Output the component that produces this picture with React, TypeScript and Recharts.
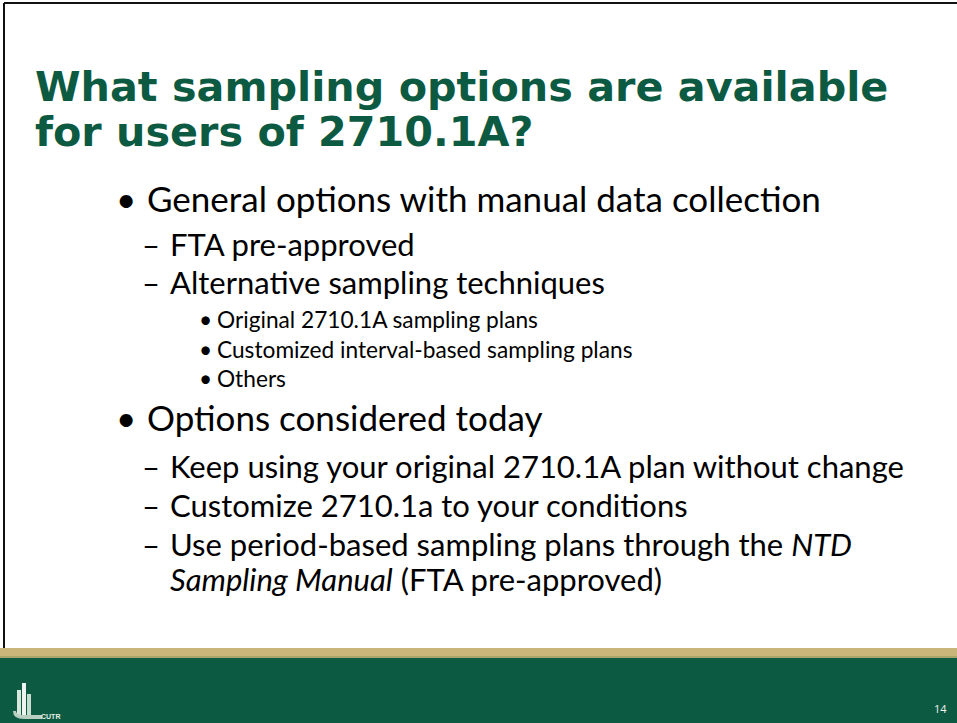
import React from 'react';
import { ComposedChart, Customized } from 'recharts';

const titleLines = ['What sampling options are available', 'for users of 2710.1A?'];

// level 1 = big bullet, 2 = dash, 3 = small bullet, 0 = continuation of previous line
const bulletLevels = [1, 2, 2, 3, 3, 3, 1, 2, 2, 2, 0];
const bulletTexts = [
  [{ t: 'General options with manual data collection' }],
  [{ t: 'FTA pre-approved' }],
  [{ t: 'Alternative sampling techniques' }],
  [{ t: 'Original 2710.1A sampling plans' }],
  [{ t: 'Customized interval-based sampling plans' }],
  [{ t: 'Others' }],
  [{ t: 'Options considered today' }],
  [{ t: 'Keep using your original 2710.1A plan without change' }],
  [{ t: 'Customize 2710.1a to your conditions' }],
  [{ t: 'Use period-based sampling plans through the ' }, { t: 'NTD', i: true }],
  [{ t: 'Sampling Manual', i: true }, { t: ' (FTA pre-approved)' }],
];
const bulletBaselines = [212, 256, 294, 328, 358, 387, 431, 478, 517, 556, 591];

const pageNumber = '14';
const logoLabel = 'CUTR';

const GREEN = '#0d5a42';
const GOLD = '#c9b47a';
const BODY_FONT = 'Lato, "Open Sans", sans-serif';

const levelStyle: Record<number, { marker: string; mx: number; tx: number; size: number }> = {
  1: { marker: '•', mx: 116, tx: 147, size: 35 },
  2: { marker: '–', mx: 142, tx: 170, size: 31 },
  3: { marker: '•', mx: 199, tx: 217, size: 22.7 },
  0: { marker: '', mx: 0, tx: 170, size: 31 },
};

const Slide = () => (
  <g>
    <rect x={0} y={0} width={957} height={723} fill="#ffffff" />
    {/* frame */}
    <line x1={4} y1={3} x2={957} y2={3} stroke="#111" strokeWidth={2} />
    <line x1={4} y1={3} x2={4} y2={660} stroke="#111" strokeWidth={2} />

    {titleLines.map((line, i) => (
      <text
        key={line}
        x={35}
        y={101 + i * 45}
        fill={GREEN}
        fontFamily='"DejaVu Sans", Verdana, sans-serif'
        fontWeight="bold"
        fontSize={41.3}
      >
        {line}
      </text>
    ))}

    {bulletTexts.map((parts, i) => {
      const s = levelStyle[bulletLevels[i]];
      const y = bulletBaselines[i];
      return (
        <g key={i}>
          {s.marker && (
            <text x={s.mx} y={y} fontFamily={BODY_FONT} fontSize={s.size} fill="#000">
              {s.marker}
            </text>
          )}
          <text x={s.tx} y={y} fontFamily={BODY_FONT} fontSize={s.size} fill="#000" style={{ whiteSpace: 'pre' }}>
            {parts.map((p, j) => (
              <tspan key={j} fontStyle={p.i ? 'italic' : 'normal'}>
                {p.t}
              </tspan>
            ))}
          </text>
        </g>
      );
    })}

    {/* footer */}
    <rect x={0} y={648} width={957} height={9} fill={GOLD} />
    <rect x={0} y={656} width={957} height={2} fill="#a9a46a" />
    <rect x={0} y={658} width={957} height={65} fill={GREEN} />

    {/* logo */}
    <rect x={17} y={690} width={4} height={27} fill="#d8e6dc" />
    <rect x={22} y={683} width={4} height={34} fill="#eef4ef" />
    <rect x={27} y={694} width={4} height={23} fill="#c9dccf" />
    <path d="M13 711 Q13 719 24 719 L42 719 L42 715 L24 715 Q16 715 16 711 Z" fill="#b9cfc1" />
    <text x={41} y={719} fontFamily="Arial, sans-serif" fontSize={7} fontWeight="bold" fill="#e6efe8">
      {logoLabel}
    </text>

    <text x={934} y={713} fontFamily='"Open Sans", sans-serif' fontSize={11} fill="#f2f2f2">
      {pageNumber}
    </text>
  </g>
);

export default function App() {
  return (
    <div style={{ position: 'absolute', left: 0, top: 0, width: 957, height: 723 }}>
      <ComposedChart width={957} height={723} data={[]} margin={{ top: 0, right: 0, bottom: 0, left: 0 }}>
        <Customized component={Slide} />
      </ComposedChart>
    </div>
  );
}
